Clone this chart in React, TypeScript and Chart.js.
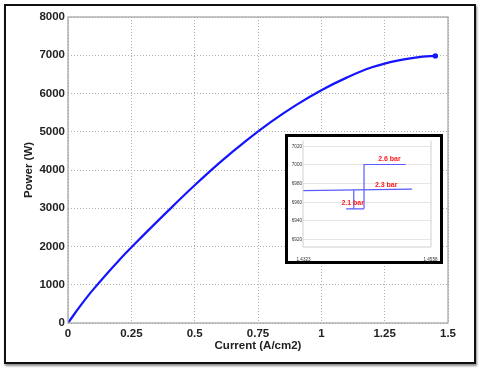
import React, { useEffect, useRef } from "react";
import { Chart, registerables } from "chart.js";

Chart.register(...registerables);

// Main curve: current density (A/cm2) vs power (W)
const currentValues = [0, 0.05, 0.1, 0.2, 0.3, 0.4, 0.5, 0.6, 0.7, 0.8, 0.9, 1.0, 1.1, 1.2, 1.3, 1.4, 1.45];
const powerValues = [0, 460, 880, 1630, 2310, 2965, 3600, 4200, 4750, 5250, 5695, 6085, 6415, 6685, 6860, 6965, 6983];

const xTickValues = [0, 0.25, 0.5, 0.75, 1, 1.25, 1.5];
const xTickLabels = ["0", "0.25", "0.5", "0.75", "1", "1.25", "1.5"];
const yTickValues = [0, 1000, 2000, 3000, 4000, 5000, 6000, 7000, 8000];

// Inset (zoom near the end of the curve)
const insetXTicks = [1.4323, 1.4558];
const insetYTicks = [6920, 6940, 6960, 6980, 7000, 7020];
const line23X = [1.4321, 1.4524];
const line23Y = [6972.5, 6974];
const line26X = [1.4435, 1.4435, 1.4512];
const line26Y = [6953, 7000.5, 7000.5];
const line21X = [1.4402, 1.4435];
const line21Y = [6953, 6953];
const line21vX = [1.4416, 1.4416];
const line21vY = [6953, 6973];
const insetLabelTexts = ["2.6 bar", "2.3 bar", "2.1 bar"];
const insetLabelX = [1.4482, 1.4476, 1.4414];
const insetLabelY = [7006, 6978.6, 6959.6];

const FONT = "'Liberation Sans', Arial, Helvetica, sans-serif";

const pts = (xs: number[], ys: number[]) => xs.map((x, i) => ({ x, y: ys[i] }));

export default function App() {
  const mainRef = useRef<HTMLCanvasElement>(null);
  const insetRef = useRef<HTMLCanvasElement>(null);

  useEffect(() => {
    const boxPlugin = {
      id: "box",
      afterDraw(chart: any) {
        const { ctx, chartArea: a } = chart;
        ctx.save();
        ctx.strokeStyle = "#a0a0a0";
        ctx.lineWidth = 1.2;
        ctx.strokeRect(a.left, a.top, a.right - a.left, a.bottom - a.top);
        ctx.restore();
      },
    };
    const main = new Chart(mainRef.current!, {
      type: "line",
      data: {
        datasets: [
          {
            data: pts(currentValues, powerValues),
            borderColor: "#1414ff",
            backgroundColor: "#1414ff",
            borderWidth: 2.2,
            tension: 0.4,
            pointRadius: (c: any) => (c.dataIndex === currentValues.length - 1 ? 1.6 : 0),
          },
        ],
      },
      options: {
        animation: false,
        responsive: false,
        events: [],
        layout: { padding: { top: 17, right: 32, left: 0, bottom: 0 } },
        plugins: { legend: { display: false }, tooltip: { enabled: false } },
        scales: {
          x: {
            type: "linear",
            min: 0,
            max: 1.5,
            afterFit: (s: any) => { s.height = 46; },
            afterBuildTicks: (s: any) => { s.ticks = xTickValues.map((v) => ({ value: v })); },
            ticks: {
              callback: (v: any) => xTickLabels[xTickValues.indexOf(Number(v))] ?? "",
              font: { family: FONT, size: 11.5, weight: "bold" },
              color: "#222",
              padding: 4,
              maxRotation: 0,
            },
            grid: { color: "#b0b0b0", lineWidth: 1, drawTicks: false, tickLength: 0 },
            border: { display: false, dash: [1, 2] },
            title: {
              display: true,
              text: "Current (A/cm2)",
              font: { family: FONT, size: 11.5, weight: "bold" },
              color: "#222",
              padding: { top: 0, bottom: 16 },
            },
          },
          y: {
            type: "linear",
            min: 0,
            max: 8000,
            afterFit: (s: any) => { s.width = 68; },
            afterBuildTicks: (s: any) => { s.ticks = yTickValues.map((v) => ({ value: v })); },
            ticks: {
              callback: (v: any) => String(v),
              font: { family: FONT, size: 11.5, weight: "bold" },
              color: "#222",
              padding: 3,
            },
            grid: { color: "#b0b0b0", lineWidth: 1, drawTicks: false, tickLength: 0 },
            border: { display: false, dash: [1, 2] },
            title: {
              display: true,
              text: "Power (W)",
              font: { family: FONT, size: 11.5, weight: "bold" },
              color: "#222",
              padding: { top: 22, bottom: 0 },
            },
          },
        },
      },
      plugins: [boxPlugin],
    } as any);

    const insetBox = {
      id: "insetBox",
      afterDraw(chart: any) {
        const { ctx, chartArea: a } = chart;
        ctx.save();
        ctx.strokeStyle = "#cfcfcf";
        ctx.lineWidth = 1;
        ctx.beginPath();
        ctx.moveTo(a.left, a.top);
        ctx.lineTo(a.left, a.bottom);
        ctx.lineTo(a.right, a.bottom);
        ctx.lineTo(a.right, a.top);
        ctx.stroke();
        ctx.fillStyle = "#ff1a1a";
        ctx.font = `bold 7px ${FONT}`;
        ctx.textAlign = "center";
        ctx.textBaseline = "middle";
        insetLabelTexts.forEach((t, i) => {
          ctx.fillText(t, chart.scales.x.getPixelForValue(insetLabelX[i]), chart.scales.y.getPixelForValue(insetLabelY[i]));
        });
        ctx.restore();
      },
    };
    const lineDs = (xs: number[], ys: number[]) => ({
      data: pts(xs, ys),
      borderColor: "#5a5aff",
      borderWidth: 1.2,
      pointRadius: 0,
      tension: 0,
    });
    const inset = new Chart(insetRef.current!, {
      type: "line",
      data: {
        datasets: [
          lineDs(line23X, line23Y),
          lineDs(line26X, line26Y),
          lineDs(line21X, line21Y),
          lineDs(line21vX, line21vY),
        ],
      },
      options: {
        animation: false,
        responsive: false,
        events: [],
        layout: { padding: { top: 1, right: 9, left: 0, bottom: 0 } },
        plugins: { legend: { display: false }, tooltip: { enabled: false } },
        scales: {
          x: {
            type: "linear",
            min: 1.4322,
            max: 1.4559,
            afterFit: (s: any) => { s.height = 14; },
            afterBuildTicks: (s: any) => { s.ticks = insetXTicks.map((v) => ({ value: v })); },
            ticks: {
              callback: (v: any) => Number(v).toFixed(4),
              font: { family: FONT, size: 4.6 },
              color: "#333",
              padding: 2,
              maxRotation: 0,
              autoSkip: false,
            },
            grid: { display: false },
            border: { display: false },
          },
          y: {
            type: "linear",
            min: 6912,
            max: 7026,
            afterFit: (s: any) => { s.width = 15; },
            afterBuildTicks: (s: any) => { s.ticks = insetYTicks.map((v) => ({ value: v })); },
            ticks: {
              callback: (v: any) => String(v),
              font: { family: FONT, size: 4.6 },
              color: "#333",
              padding: 1,
            },
            grid: { color: "#e6e6e6", lineWidth: 1, drawTicks: false, tickLength: 0 },
            border: { display: false },
          },
        },
      },
      plugins: [insetBox],
    } as any);

    return () => {
      main.destroy();
      inset.destroy();
    };
  }, []);

  return (
    <div style={{ position: "fixed", left: 0, top: 0, width: 480, height: 369, background: "#fff" }}>
      <canvas ref={mainRef} width={480} height={369} style={{ position: "absolute", left: 0, top: 0 }} />
      <div
        style={{
          position: "absolute",
          left: 4,
          top: 4,
          width: 472,
          height: 360,
          boxSizing: "border-box",
          border: "2px solid #111",
          boxShadow: "1px 2px 2px rgba(0,0,0,0.45)",
          pointerEvents: "none",
        }}
      />
      <div
        style={{
          position: "absolute",
          left: 285,
          top: 134,
          width: 158,
          height: 130,
          boxSizing: "border-box",
          border: "3px solid #000",
          background: "#fff",
        }}
      >
        <canvas ref={insetRef} width={152} height={124} style={{ position: "absolute", left: 0, top: 0 }} />
      </div>
    </div>
  );
}
